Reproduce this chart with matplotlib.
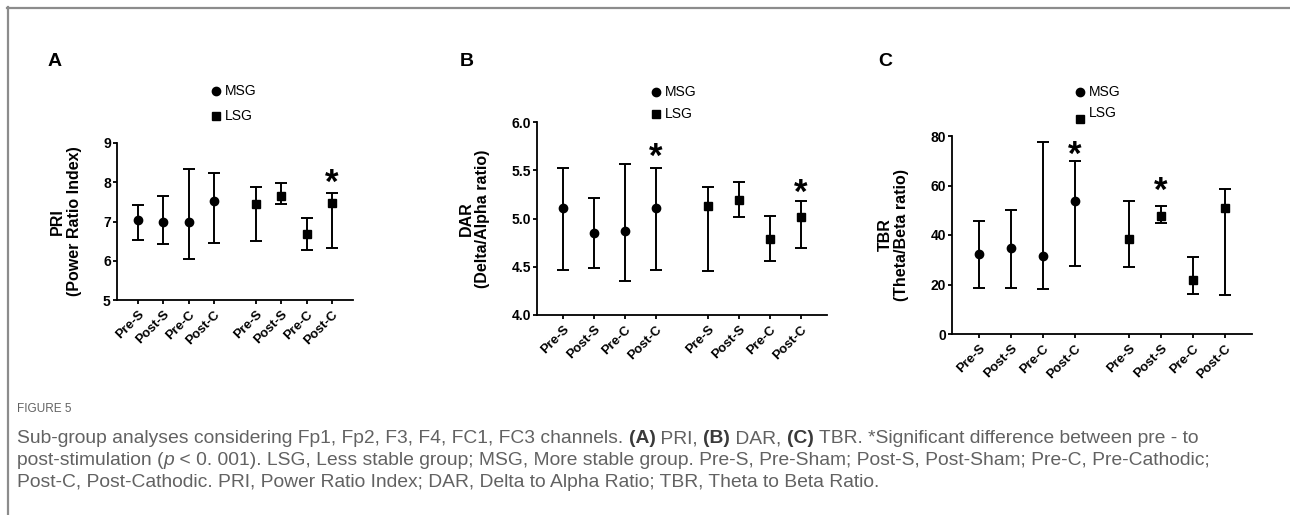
import numpy as np
import matplotlib
matplotlib.use("Agg")
import matplotlib.pyplot as plt
from matplotlib.lines import Line2D

plt.rcParams.update({
    'font.family': ['Liberation Sans', 'DejaVu Sans'],
    'axes.linewidth': 1.3,
    'xtick.major.width': 1.3,
    'ytick.major.width': 1.3,
    'xtick.major.size': 3,
    'ytick.major.size': 3,
})

# -------------------------------------------------
# data (centre, lower end, upper end of each bar)
# -------------------------------------------------
conditions = ['Pre-S', 'Post-S', 'Pre-C', 'Post-C']

pri_msg = [7.04, 7.00, 6.99, 7.53]
pri_msg_lo = [6.53, 6.43, 6.04, 6.45]
pri_msg_hi = [7.41, 7.66, 8.34, 8.24]
pri_lsg = [7.45, 7.65, 6.68, 7.48]
pri_lsg_lo = [6.51, 7.44, 6.27, 6.33]
pri_lsg_hi = [7.88, 7.97, 7.08, 7.72]
pri_sig_msg = [False, False, False, False]
pri_sig_lsg = [False, False, False, True]

dar_msg = [5.11, 4.85, 4.87, 5.11]
dar_msg_lo = [4.47, 4.49, 4.35, 4.47]
dar_msg_hi = [5.52, 5.21, 5.56, 5.52]
dar_lsg = [5.13, 5.19, 4.79, 5.02]
dar_lsg_lo = [4.46, 5.02, 4.56, 4.69]
dar_lsg_hi = [5.33, 5.38, 5.03, 5.18]
dar_sig_msg = [False, False, False, True]
dar_sig_lsg = [False, False, False, True]

tbr_msg = [32.2, 34.8, 31.7, 53.8]
tbr_msg_lo = [18.6, 18.5, 18.0, 27.5]
tbr_msg_hi = [45.6, 49.9, 77.6, 70.1]
tbr_lsg = [38.4, 47.8, 22.0, 51.1]
tbr_lsg_lo = [27.0, 45.0, 16.1, 15.7]
tbr_lsg_hi = [53.7, 51.7, 31.0, 58.5]
tbr_sig_msg = [False, False, False, True]
tbr_sig_lsg = [False, True, False, False]

W, H = 1290, 515
fig = plt.figure(figsize=(W / 100, H / 100), dpi=100)


def px_box(left, right, top, bottom):
    return [left / W, (H - bottom) / H, (right - left) / W, (bottom - top) / H]


x_msg = np.arange(4)
x_lsg = np.arange(4) + 4.7


def panel(box, letter, ylabel, ylim, yticks, yfmt,
          msg, msg_lo, msg_hi, lsg, lsg_lo, lsg_hi, sig_msg, sig_lsg,
          star_off, leg_pos, lsg_marker_off=0):
    ax = fig.add_axes(px_box(*box))
    for xs, m, lo, hi, mk, sig, offs in [(x_msg, msg, msg_lo, msg_hi, 'o', sig_msg, star_off[0]),
                                         (x_lsg, lsg, lsg_lo, lsg_hi, 's', sig_lsg, star_off[1])]:
        m = np.array(m)
        yerr = [m - np.array(lo), np.array(hi) - m]
        ax.errorbar(xs, m, yerr=yerr, fmt=mk, color='black', ms=6,
                    elinewidth=1.4, capsize=4.5, capthick=1.4, clip_on=False)
        for xi, h, s in zip(xs, hi, sig):
            if s:
                ax.annotate('*', (xi, h), xytext=(0, offs), textcoords='offset points',
                            ha='center', va='baseline', fontsize=25, fontweight='bold')
    ax.set_xlim(-0.85, 8.55)
    ax.set_ylim(*ylim)
    ax.set_yticks(yticks)
    ax.set_yticklabels([yfmt.format(v) for v in yticks], fontsize=10, fontweight='bold')
    ax.set_xticks(list(x_msg) + list(x_lsg))
    ax.set_xticklabels(conditions * 2, rotation=45, ha='right', va='top',
                       rotation_mode='anchor', fontsize=9.5, fontweight='bold')
    ax.tick_params(axis='x', pad=3)
    ax.tick_params(axis='y', pad=1.5)
    ax.spines['top'].set_visible(False)
    ax.spines['right'].set_visible(False)
    ax.set_ylabel(ylabel, fontsize=11.5, fontweight='bold', labelpad=15, linespacing=1.15)
    # panel letter
    fig.text(leg_pos[0] / W, (H - 62) / H, letter, fontsize=14,
             fontweight='bold', ha='left', va='center')
    # legend
    lx, ly1, ly2 = leg_pos[1], leg_pos[2], leg_pos[3]
    fig.add_artist(Line2D([lx / W], [(H - ly1) / H], marker='o', color='black', ms=6))
    fig.add_artist(Line2D([lx / W], [(H - ly2 - lsg_marker_off) / H], marker='s', color='black', ms=6))
    fig.text((lx + 9) / W, (H - ly1) / H, 'MSG', fontsize=10, va='center')
    fig.text((lx + 9) / W, (H - ly2) / H, 'LSG', fontsize=10, va='center')
    return ax


panel((117, 353, 143, 300), 'A', 'PRI\n(Power Ratio Index)', (5, 9), [5, 6, 7, 8, 9], '{:g}',
      pri_msg, pri_msg_lo, pri_msg_hi, pri_lsg, pri_lsg_lo, pri_lsg_hi,
      pri_sig_msg, pri_sig_lsg, (0, 0), (48, 216, 91, 116))
panel((537, 827, 122, 315), 'B', 'DAR\n(Delta/Alpha ratio)', (4.0, 6.0), [4.0, 4.5, 5.0, 5.5, 6.0], '{:.1f}',
      dar_msg, dar_msg_lo, dar_msg_hi, dar_lsg, dar_lsg_lo, dar_lsg_hi,
      dar_sig_msg, dar_sig_lsg, (1, -1), (460, 656, 92, 114))
panel((952, 1252, 136, 334), 'C', 'TBR\n(Theta/Beta ratio)', (0, 80), [0, 20, 40, 60, 80], '{:g}',
      tbr_msg, tbr_msg_lo, tbr_msg_hi, tbr_lsg, tbr_lsg_lo, tbr_lsg_hi,
      tbr_sig_msg, tbr_sig_lsg, (-3, 4), (878, 1080, 92, 113), lsg_marker_off=6)

# frame lines
fig.add_artist(Line2D([7 / W, 1], [(H - 7.5) / H] * 2, color='#8c8c8c', lw=1.6))
fig.add_artist(Line2D([7.5 / W] * 2, [0, (H - 7) / H], color='#8c8c8c', lw=1.6))

# caption
renderer = fig.canvas.get_renderer()
cap_font = ['Liberation Sans']
grey = '#626262'


def runs(x, y, parts, size=13.9):
    for txt, style in parts:
        kw = dict(fontsize=size, color=grey, fontweight='normal', family=cap_font, va='baseline')
        if style == 'b':
            kw.update(fontweight='bold', color='#3a3a3a')
        if style == 'i':
            kw.update(style='italic')
        t = fig.text(x / W, (H - y) / H, txt, **kw)
        x = t.get_window_extent(renderer).x1


fig.text(17 / W, (H - 412) / H, 'FIGURE 5', fontsize=8.5, color=grey,
         family=cap_font, va='baseline')
runs(17, 443, [('Sub-group analyses considering Fp1, Fp2, F3, F4, FC1, FC3 channels. ', ''),
               ('(A)', 'b'), (' PRI, ', ''), ('(B)', 'b'), (' DAR, ', ''), ('(C)', 'b'),
               (' TBR. *Significant difference between pre - to', '')])
runs(17, 465, [('post-stimulation (', ''), ('p', 'i'),
               (' < 0. 001). LSG, Less stable group; MSG, More stable group. Pre-S, Pre-Sham; Post-S, Post-Sham; Pre-C, Pre-Cathodic;', '')])
runs(17, 487, [('Post-C, Post-Cathodic. PRI, Power Ratio Index; DAR, Delta to Alpha Ratio; TBR, Theta to Beta Ratio.', '')])

fig.savefig('out.png', dpi=100)
